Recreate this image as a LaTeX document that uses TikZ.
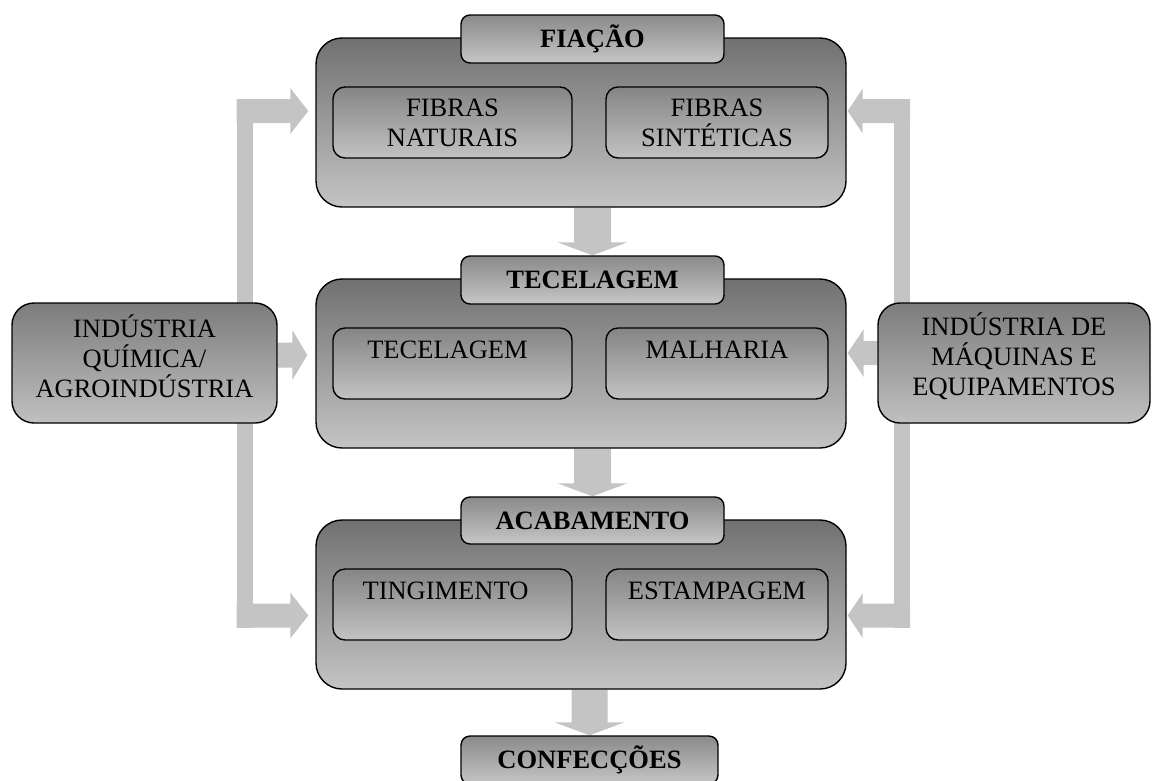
\documentclass[tikz,border=0pt]{standalone}
\usepackage{fontspec}
\setmainfont{Liberation Serif}
\usetikzlibrary{calc,backgrounds}
\definecolor{arrowgray}{HTML}{C4C4C4}
\definecolor{outtop}{HTML}{717171}
\definecolor{outbot}{HTML}{C4C4C4}
\definecolor{intop}{HTML}{858585}
\definecolor{inbot}{HTML}{C2C2C2}
\definecolor{hdtop}{HTML}{8A8A8A}
\definecolor{hdbot}{HTML}{C6C6C6}
\definecolor{sdtop}{HTML}{7C7C7C}
\definecolor{sdbot}{HTML}{C0C0C0}
% block arrows: #1 start, #2 tip, #3 half shaft, #4 half head, #5 head length
\newcommand\blkdown[5]{\fill[arrowgray] ($(#1)+(-#3,0)$) -- ($(#2)+(-#3,-#5)$) -- ($(#2)+(-#4,-#5)$) -- (#2) -- ($(#2)+(#4,-#5)$) -- ($(#2)+(#3,-#5)$) -- ($(#1)+(#3,0)$) -- cycle;}
\newcommand\blkright[5]{\fill[arrowgray] ($(#1)+(0,-#3)$) -- ($(#2)+(-#5,-#3)$) -- ($(#2)+(-#5,-#4)$) -- (#2) -- ($(#2)+(-#5,#4)$) -- ($(#2)+(-#5,#3)$) -- ($(#1)+(0,#3)$) -- cycle;}
\newcommand\blkleft[5]{\fill[arrowgray] ($(#1)+(0,-#3)$) -- ($(#2)+(#5,-#3)$) -- ($(#2)+(#5,-#4)$) -- (#2) -- ($(#2)+(#5,#4)$) -- ($(#2)+(#5,#3)$) -- ($(#1)+(0,#3)$) -- cycle;}
\begin{document}
\begin{tikzpicture}[x=1pt,y=-1pt,
  every node/.style={font=\fontsize{26.5}{30}\selectfont, inner sep=0pt, align=center},
  bx/.style={draw=black, line width=1.4pt, rounded corners=#1},
  outerbox/.style={bx=26pt, top color=outtop, bottom color=outbot, minimum width=530pt, minimum height=169pt},
  headbox/.style={bx=9pt, top color=hdtop, bottom color=hdbot, minimum width=263pt, minimum height=48pt, font=\fontsize{26.5}{30}\selectfont\bfseries},
  innerbox/.style={bx=12pt, top color=intop, bottom color=inbot, minimum height=71pt},
  sidebox/.style={bx=22pt, top color=sdtop, bottom color=sdbot, minimum height=120pt},
]
\useasboundingbox (0,0) rectangle (1153,780);

% ---------- FIAÇÃO ----------
\node[outerbox] (fia) at (581,122.5) {};
\node[headbox] (fiah) at (592.5,39) {FIAÇÃO};
\node[innerbox, minimum width=239pt] (fiaL) at (452.5,122.5) {FIBRAS\\NATURAIS};
\node[innerbox, minimum width=222pt] (fiaR) at (717,122.5) {FIBRAS\\SINTÉTICAS};

% ---------- TECELAGEM ----------
\node[outerbox] (tec) at (581,363.5) {};
\node[headbox] (tech) at (592.5,280) {TECELAGEM};
\node[innerbox, minimum width=239pt] (tecL) at (452.5,363.5) {};
\node[innerbox, minimum width=222pt] (tecR) at (717,363.5) {};
\node[anchor=base] (tecLt) at ($(tecL.north)+(-5,31)$) {TECELAGEM};
\node[anchor=base] (tecRt) at ($(tecR.north)+(0,31)$) {MALHARIA};

% ---------- ACABAMENTO ----------
\node[outerbox] (aca) at (581,604.5) {};
\node[headbox, minimum height=47pt] (acah) at (592.5,520.5) {ACABAMENTO};
\node[innerbox, minimum width=239pt] (acaL) at (452.5,604.5) {};
\node[innerbox, minimum width=222pt] (acaR) at (717,604.5) {};
\node[anchor=base] (acaLt) at ($(acaL.north)+(-7,31)$) {TINGIMENTO};
\node[anchor=base] (acaRt) at ($(acaR.north)+(0,31)$) {ESTAMPAGEM};

% ---------- CONFECÇÕES ----------
\node[headbox, minimum width=257pt] (conf) at (589.5,760) {CONFECÇÕES};

% ---------- side boxes ----------
\node[sidebox, minimum width=265pt] (sideL) at (144.5,363) {};
\node (sideLt) at ($(sideL)+(0,-7)$) {INDÚSTRIA\\QUÍMICA/\\AGROINDÚSTRIA};
\node[sidebox, minimum width=272pt] (sideR) at (1014,363) {};
\node (sideRt) at ($(sideR)+(0,-7)$) {INDÚSTRIA DE\\MÁQUINAS E\\EQUIPAMENTOS};

% ---------- arrows (behind) ----------
\begin{scope}[on background layer]
  % vertical down arrows
  \blkdown{tech.north |- fia.south}{tech.north}{18.5}{35}{13}
  \blkdown{tech.north |- tec.south}{acah.north}{18.5}{35}{13}
  \blkdown{conf.north |- aca.south}{conf.north}{18}{35}{13}
  % left distribution bar
  \coordinate (LT) at (236.5,111);
  \coordinate (LB) at (236.5,615.5);
  \coordinate (LM) at ($(sideL.east)+(0,-8)$);
  \fill[arrowgray] (236.5,99) rectangle (252.5,627.5);
  \blkright{LT}{$(LT -| fia.west)+(-7,0)$}{12}{23}{18}
  \blkright{LB}{$(LB -| aca.west)+(-7,0)$}{12}{23}{18}
  \blkright{LM}{$(LM -| tec.west)+(-8,0)$}{12.5}{25}{15}
  % right distribution bar
  \coordinate (RT) at (910,111);
  \coordinate (RB) at (910,615.5);
  \coordinate (RM) at ($(sideR.west)+(0,-10)$);
  \fill[arrowgray] (894,99) rectangle (910,627.5);
  \blkleft{RT}{$(RT -| fia.east)+(1,0)$}{12}{22.5}{15}
  \blkleft{RB}{$(RB -| aca.east)+(1,0)$}{12}{22.5}{15}
  \blkleft{RM}{$(RM -| tec.east)+(1,0)$}{12}{24}{16}
\end{scope}
\end{tikzpicture}
\end{document}
